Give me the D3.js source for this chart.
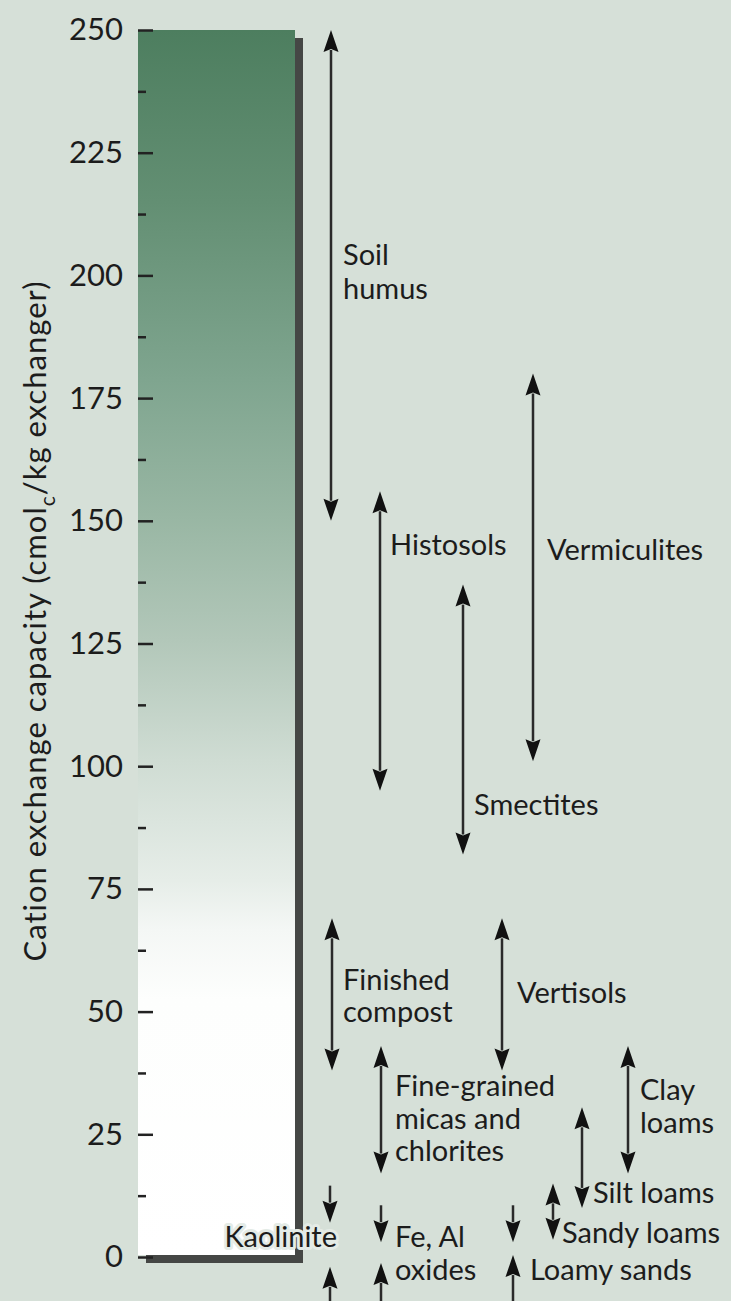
<!DOCTYPE html>
<html>
<head>
<meta charset="utf-8">
<script src="https://cdn.jsdelivr.net/npm/d3@7"></script>
<style>
  html, body { margin: 0; padding: 0; background: #d6e0d8; }
  svg { display: block; }
  text { font-family: Lato, "Open Sans", sans-serif; fill: #1c1c1c; }
</style>
</head>
<body>
<div id="chart"></div>
<script>
// Cation exchange capacity ranges (cmolc/kg) of soil materials and textures
const materials = ["Soil humus", "Histosols", "Vermiculites", "Smectites",
  "Finished compost", "Vertisols", "Fine-grained micas and chlorites",
  "Clay loams", "Silt loams", "Sandy loams", "Kaolinite", "Fe, Al oxides", "Loamy sands"];
const cecLow  = [150, 95, 101, 82, 38, 38, 17, 17, 10, 3.5, -2, -1.2, 0.4];
const cecHigh = [250, 156, 180, 137, 69, 69, 43, 43, 30.5, 15, 7, 3, 3];
// "span" = double-headed range, "pinch" = two arrows pointing at a narrow range
const arrowKind = ["span", "span", "span", "span", "span", "span", "span",
  "span", "span", "span", "pinch", "pinch", "pinch"];
const majorTicks = [0, 25, 50, 75, 100, 125, 150, 175, 200, 225, 250];
const minorTicks = [12.5, 37.5, 62.5, 87.5, 112.5, 137.5, 162.5, 187.5, 212.5, 237.5];
const axisTitle = "Cation exchange capacity (cmol";
const axisTitleSub = "c";
const axisTitleEnd = "/kg exchanger)";

// Layout: shaft x for each arrow, label anchor (x, baseline y) and label lines
const shaftX = [331, 380, 533, 463, 332, 502, 381, 628, 582, 553, 330, 381, 513];
const labelLines = [["Soil", "humus"], ["Histosols"], ["Vermiculites"], ["Smectites"],
  ["Finished", "compost"], ["Vertisols"], ["Fine-grained", "micas and", "chlorites"],
  ["Clay", "loams"], ["Silt loams"], ["Sandy loams"], ["Kaolinite"], ["Fe, Al", "oxides"], ["Loamy sands"]];
const labelX = [343, 390, 547, 474, 343, 517, 395, 640, 593, 562, 337, 395, 530];
const labelY = [265, 555, 560, 815, 990, 1003, 1096, 1100, 1203, 1243, 1247, 1247, 1280];
const labelAnchor = ["start", "start", "start", "start", "start", "start", "start",
  "start", "start", "start", "end", "start", "start"];
const lineGap = [34, 0, 0, 0, 32, 0, 32.5, 33, 0, 0, 0, 33, 0];

const W = 731, H = 1301;
const svg = d3.select("#chart").append("svg").attr("width", W).attr("height", H);
svg.append("rect").attr("width", W).attr("height", H).attr("fill", "#d6e0d8");

const y = d3.scaleLinear().domain([0, 250]).range([1257, 30]);
const barLeft = 138, barRight = 295;

// gradient fill of the scale bar: dark green at the top fading to white
const defs = svg.append("defs");
const grad = defs.append("linearGradient").attr("id", "cecGrad")
  .attr("gradientUnits", "userSpaceOnUse")
  .attr("x1", 0).attr("x2", 0).attr("y1", y(250)).attr("y2", y(0));
[[0, "#4d7e5f"], [0.14, "#638f73"], [0.285, "#7fa58f"], [0.395, "#98b6a3"],
 [0.497, "#b2c7b9"], [0.595, "#cfdcd3"], [0.693, "#e6ede8"], [0.733, "#f4f7f5"],
 [0.79, "#fdfefd"], [1, "#ffffff"]]
  .forEach(([o, c]) => grad.append("stop").attr("offset", o).attr("stop-color", c));

// drop shadow behind the bar
svg.append("rect")
  .attr("x", barLeft + 8).attr("y", y(250) + 8)
  .attr("width", barRight - barLeft).attr("height", y(0) - y(250) - 2)
  .attr("fill", "#454745");
svg.append("rect")
  .attr("x", barLeft).attr("y", y(250))
  .attr("width", barRight - barLeft).attr("height", y(0) - y(250) - 2)
  .attr("fill", "url(#cecGrad)");

// axis: ticks point into the bar, labels on the left
const axisG = svg.append("g").attr("transform", `translate(${barLeft},0)`)
  .call(d3.axisLeft(y).tickValues(majorTicks).tickSize(-15).tickPadding(15));
axisG.select(".domain").remove();
axisG.selectAll(".tick line").attr("stroke", "#222").attr("stroke-width", 2.5);
axisG.selectAll(".tick text")
  .style("font-family", "Lato, sans-serif").style("font-size", "31px")
  .attr("fill", "#1c1c1c");

const minorG = svg.append("g").attr("transform", `translate(${barLeft},0)`)
  .call(d3.axisLeft(y).tickValues(minorTicks).tickSize(-8).tickFormat(""));
minorG.select(".domain").remove();
minorG.selectAll(".tick line").attr("stroke", "#222").attr("stroke-width", 2.5);

// axis title
const title = svg.append("text")
  .attr("transform", `translate(34,621) rotate(-90)`)
  .attr("text-anchor", "middle").attr("dominant-baseline", "central")
  .style("font-size", "31px").style("letter-spacing", "1px");
title.append("tspan").text(axisTitle);
title.append("tspan").text(axisTitleSub).attr("baseline-shift", "sub").style("font-size", "21px");
title.append("tspan").text(axisTitleEnd);

// arrows
const headLen = 22, headHalf = 7.5, notch = 3, pinchShaft = 37;
const arrowG = svg.append("g");
function head(x, tipY, dir) {
  // dir = -1 points up, +1 points down
  const base = tipY - dir * headLen;
  return `M${x},${tipY} L${x - headHalf},${base} L${x},${base + dir * notch} L${x + headHalf},${base} Z`;
}
materials.forEach((m, i) => {
  const x = shaftX[i];
  const top = y(cecHigh[i]), bot = y(cecLow[i]);
  const g = arrowG.append("g");
  if (arrowKind[i] === "span") {
    g.append("line").attr("x1", x).attr("x2", x)
      .attr("y1", top + headLen - 2).attr("y2", bot - headLen + 2)
      .attr("stroke", "#2a2a2a").attr("stroke-width", 2.5);
    g.append("path").attr("d", head(x, top, -1)).attr("fill", "#111");
    g.append("path").attr("d", head(x, bot, 1)).attr("fill", "#111");
  } else {
    g.append("line").attr("x1", x).attr("x2", x)
      .attr("y1", top - pinchShaft).attr("y2", top - headLen + 2)
      .attr("stroke", "#2a2a2a").attr("stroke-width", 2.5);
    g.append("path").attr("d", head(x, top, 1)).attr("fill", "#111");
    g.append("line").attr("x1", x).attr("x2", x)
      .attr("y1", bot + headLen - 2).attr("y2", Math.min(bot + pinchShaft + 10, H + 5))
      .attr("stroke", "#2a2a2a").attr("stroke-width", 2.5);
    g.append("path").attr("d", head(x, bot, -1)).attr("fill", "#111");
  }
});

// labels
const labelG = svg.append("g");
materials.forEach((m, i) => {
  const t = labelG.append("text")
    .attr("x", labelX[i]).attr("y", labelY[i])
    .attr("text-anchor", labelAnchor[i])
    .style("font-size", "29px");
  if (m === "Kaolinite") {
    t.attr("stroke", "#e4ebe6").attr("stroke-width", 6)
      .attr("stroke-linejoin", "round").attr("paint-order", "stroke");
  }
  labelLines[i].forEach((line, k) => {
    t.append("tspan").attr("x", labelX[i]).attr("y", labelY[i] + k * lineGap[i]).text(line);
  });
});
</script>
</body>
</html>
